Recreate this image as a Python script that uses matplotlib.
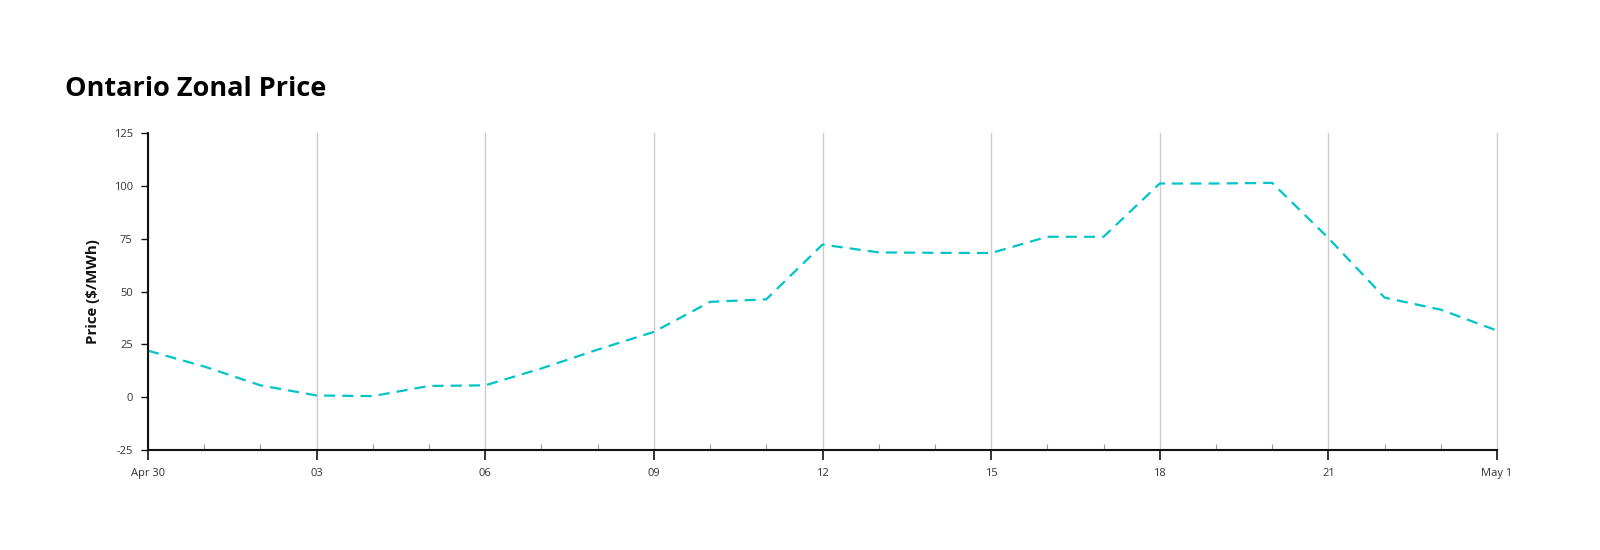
import matplotlib
matplotlib.use("Agg")
import matplotlib.pyplot as plt
from matplotlib.ticker import MultipleLocator

plt.rcParams['font.family'] = ['Open Sans', 'DejaVu Sans']
plt.rcParams['axes.unicode_minus'] = False

hours = list(range(25))
prices = [22.0, 14.5, 5.6, 0.8, 0.5, 5.3, 5.6, 13.6, 22.5, 30.9, 45.1, 46.3, 72.2,
          68.5, 68.3, 68.2, 75.9, 75.9, 101.1, 101.1, 101.4, 75.3, 47.1, 41.4, 31.5]
major_ticks = [0, 3, 6, 9, 12, 15, 18, 21, 24]
tick_labels = ['Apr 30', '03', '06', '09', '12', '15', '18', '21', 'May 1']
y_ticks = [-25, 0, 25, 50, 75, 100, 125]
title = 'Ontario Zonal Price'
y_label = 'Price ($/MWh)'

fig = plt.figure(figsize=(16, 5.5), dpi=100)
ax = fig.add_axes([148/1600, 1-450/550, (1497-148)/1600, (450-133)/550])

ax.plot(hours, prices, color='#00c4c8', linewidth=1.6, linestyle=(0, (5, 3.2)), clip_on=False)

ax.set_xlim(0, 24)
ax.set_ylim(-25, 125)
ax.set_xticks(major_ticks)
ax.set_xticklabels(tick_labels)
ax.xaxis.set_minor_locator(MultipleLocator(1))
ax.set_yticks(y_ticks)

for s in ['top', 'right']:
    ax.spines[s].set_visible(False)
for s in ['left', 'bottom']:
    ax.spines[s].set_color('#111111')
    ax.spines[s].set_linewidth(1.5)

ax.grid(axis='x', which='major', color='#cccccc', linewidth=1)
ax.set_axisbelow(True)
for gl in ax.get_xgridlines():
    gl.set_clip_on(False)

ax.tick_params(axis='x', which='major', direction='out', length=7, width=1.2, color='#111111',
               labelsize=8, labelcolor='#333333', pad=6)
ax.tick_params(axis='x', which='minor', direction='in', length=4, width=0.8, color='#999999')
ax.tick_params(axis='y', which='major', direction='out', length=5, width=1, color='#111111',
               labelsize=8, labelcolor='#333333', pad=6)

ax.set_ylabel(y_label, fontsize=10.8, fontweight='bold', color='#111111', labelpad=10)

fig.text(65/1600, 1-96/550, title, fontsize=19.5, fontweight='bold', color='#000000',
         ha='left', va='baseline')

fig.savefig('out.png', dpi=100, facecolor='white')
